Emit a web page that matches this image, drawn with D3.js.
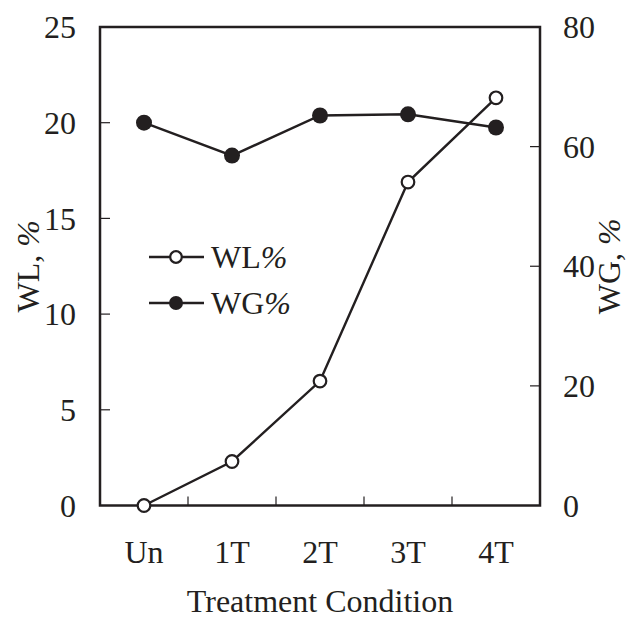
<!DOCTYPE html>
<html><head><meta charset="utf-8">
<script src="https://cdn.jsdelivr.net/npm/d3@7"></script>
<style>body{margin:0;background:#fff}svg{display:block}text{font-family:"Liberation Serif","Times New Roman",serif;fill:#231f20}</style>
</head><body>
<svg id="c" width="629" height="621"></svg>
<script>
const categories = ["Un","1T","2T","3T","4T"];
const wlValues = [0, 2.3, 6.5, 16.9, 21.3];
const wgValues = [64.0, 58.5, 65.2, 65.4, 63.2];
const leftTicks = [0,5,10,15,20,25];
const rightTicks = [0,20,40,60,80];

const svg = d3.select("#c");
const m = {l:100, r:540, t:27, b:505.5};
const ink = "#231f20";
const fs = 32;

const x = d3.scaleBand().domain(categories).range([m.l, m.r]);
const yL = d3.scaleLinear().domain([0,25]).range([m.b, m.t]);
const yR = d3.scaleLinear().domain([0,80]).range([m.b, m.t]);
const cx = d => x(d) + x.bandwidth()/2;

// frame
svg.append("rect").attr("x",m.l).attr("y",m.t).attr("width",m.r-m.l).attr("height",m.b-m.t)
  .attr("fill","none").attr("stroke",ink).attr("stroke-width",2.5);

// x ticks at band boundaries (inner)
const bounds = categories.slice(1).map(c => x(c));
svg.selectAll(".xt").data(bounds).join("line")
  .attr("x1",d=>d).attr("x2",d=>d).attr("y1",m.b).attr("y2",m.b-9)
  .attr("stroke",ink).attr("stroke-width",1.2);
svg.selectAll(".xl").data(categories).join("text")
  .attr("x",d=>cx(d)).attr("y",563).attr("text-anchor","middle").attr("font-size",fs).text(d=>d);

// left ticks
svg.selectAll(".lt").data(leftTicks.slice(1,-1)).join("line")
  .attr("x1",m.l).attr("x2",m.l+10).attr("y1",d=>yL(d)).attr("y2",d=>yL(d))
  .attr("stroke",ink).attr("stroke-width",1.2);
svg.selectAll(".ll").data(leftTicks).join("text")
  .attr("x",76).attr("y",d=>yL(d)).attr("dy","0.35em").attr("text-anchor","end").attr("font-size",fs).text(d=>d);

// right ticks
svg.selectAll(".rt").data(rightTicks.slice(1,-1)).join("line")
  .attr("x1",m.r).attr("x2",m.r-10).attr("y1",d=>yR(d)).attr("y2",d=>yR(d))
  .attr("stroke",ink).attr("stroke-width",1.2);
svg.selectAll(".rl").data(rightTicks).join("text")
  .attr("x",563).attr("y",d=>yR(d)).attr("dy","0.35em").attr("text-anchor","start").attr("font-size",fs).text(d=>d);

// axis titles
const yc = (m.t+m.b)/2;
const tL = svg.append("text").attr("transform",`translate(39,${yc}) rotate(-90)`).attr("text-anchor","middle").attr("font-size",fs);
tL.append("tspan").text("WL, ");
tL.append("tspan").attr("font-style","italic").text("%");
const tR = svg.append("text").attr("transform",`translate(620,${yc}) rotate(-90)`).attr("text-anchor","middle").attr("font-size",fs);
tR.append("tspan").text("WG, ");
tR.append("tspan").attr("font-style","italic").text("%");
svg.append("text").attr("x",(m.l+m.r)/2-0).attr("y",612).attr("text-anchor","middle").attr("font-size",fs).text("Treatment Condition");

// lines
const lineL = d3.line().x((d,i)=>cx(categories[i])).y(d=>yL(d));
const lineR = d3.line().x((d,i)=>cx(categories[i])).y(d=>yR(d));
svg.append("path").attr("d",lineR(wgValues)).attr("fill","none").attr("stroke",ink).attr("stroke-width",2.4);
svg.append("path").attr("d",lineL(wlValues)).attr("fill","none").attr("stroke",ink).attr("stroke-width",2.4);
svg.selectAll(".wg").data(wgValues).join("circle")
  .attr("cx",(d,i)=>cx(categories[i])).attr("cy",d=>yR(d)).attr("r",8).attr("fill",ink);
svg.selectAll(".wl").data(wlValues).join("circle")
  .attr("cx",(d,i)=>cx(categories[i])).attr("cy",d=>yL(d)).attr("r",6.3)
  .attr("fill","#fff").attr("stroke",ink).attr("stroke-width",2.2);

// legend
const leg = [{name:"WL%", open:true, y:257},{name:"WG%", open:false, y:303}];
leg.forEach(l=>{
  svg.append("line").attr("x1",149).attr("x2",204).attr("y1",l.y).attr("y2",l.y).attr("stroke",ink).attr("stroke-width",2.4);
  if(l.open) svg.append("circle").attr("cx",176).attr("cy",l.y).attr("r",5.8).attr("fill","#fff").attr("stroke",ink).attr("stroke-width",2.2);
  else svg.append("circle").attr("cx",176).attr("cy",l.y).attr("r",7).attr("fill",ink);
  const t = svg.append("text").attr("x",211).attr("y",l.y).attr("dy","0.35em").attr("font-size",fs);
  t.append("tspan").text(l.name.slice(0,2));
  t.append("tspan").attr("font-style","italic").text("%");
});
</script>
</body></html>
